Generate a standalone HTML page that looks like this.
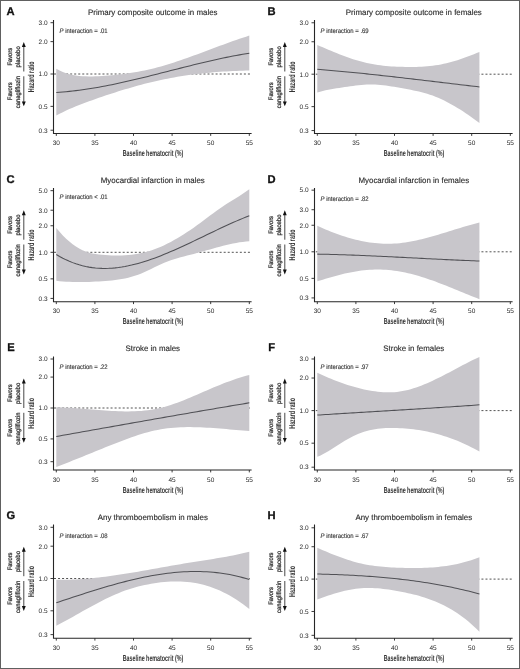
<!DOCTYPE html><html><head><meta charset="utf-8"><style>html,body{margin:0;padding:0;background:#fff;}body{width:520px;height:669px;overflow:hidden;}svg{display:block;will-change:transform;}text{font-family:"Liberation Sans",sans-serif;text-rendering:geometricPrecision;}.t{stroke:#444;stroke-width:0.15px;}.r{stroke:#333;stroke-width:0.28px;}</style></head><body>
<svg width="520" height="669" viewBox="0 0 520 669">
<rect x="0" y="0" width="520" height="669" fill="#fff"/>
<g><line x1="53.7" y1="74" x2="251.6" y2="74" stroke="#4a4a4a" stroke-width="0.95" stroke-dasharray="2.0,2.04" stroke-dashoffset="-0.3"/><polygon points="56.3,68.69 59.57,70.46 62.84,71.94 66.11,73.16 69.38,74.15 72.66,74.92 75.93,75.51 79.2,75.93 82.47,76.21 85.74,76.37 89.01,76.42 92.28,76.39 95.55,76.29 98.83,76.14 102.1,75.95 105.37,75.74 108.64,75.5 111.91,75.22 115.18,74.91 118.45,74.57 121.72,74.19 124.99,73.78 128.27,73.33 131.54,72.83 134.81,72.3 138.08,71.72 141.35,71.1 144.62,70.43 147.89,69.72 151.16,68.96 154.44,68.14 157.71,67.29 160.98,66.38 164.25,65.44 167.52,64.46 170.79,63.45 174.06,62.4 177.33,61.32 180.61,60.22 183.88,59.09 187.15,57.94 190.42,56.77 193.69,55.59 196.96,54.39 200.23,53.18 203.5,51.96 206.77,50.74 210.05,49.51 213.32,48.29 216.59,47.07 219.86,45.85 223.13,44.64 226.4,43.44 229.67,42.26 232.94,41.09 236.22,39.94 239.49,38.81 242.76,37.71 246.03,36.63 249.3,35.59 249.3,70.44 246.03,70.53 242.76,70.64 239.49,70.76 236.22,70.9 232.94,71.05 229.67,71.22 226.4,71.41 223.13,71.62 219.86,71.84 216.59,72.09 213.32,72.35 210.05,72.64 206.77,72.95 203.5,73.28 200.23,73.63 196.96,74.01 193.69,74.41 190.42,74.84 187.15,75.3 183.88,75.78 180.61,76.29 177.33,76.83 174.06,77.4 170.79,78 167.52,78.63 164.25,79.29 160.98,79.98 157.71,80.7 154.44,81.45 151.16,82.23 147.89,83.03 144.62,83.86 141.35,84.72 138.08,85.6 134.81,86.5 131.54,87.43 128.27,88.38 124.99,89.35 121.72,90.35 118.45,91.36 115.18,92.4 111.91,93.45 108.64,94.52 105.37,95.61 102.1,96.72 98.83,97.85 95.55,98.99 92.28,100.14 89.01,101.32 85.74,102.51 82.47,103.74 79.2,105.01 75.93,106.32 72.66,107.68 69.38,109.1 66.11,110.59 62.84,112.16 59.57,113.8 56.3,115.54" fill="#c8c6cb"/><polyline points="56.3,92.43 59.57,92.22 62.84,91.97 66.11,91.69 69.38,91.37 72.66,91.02 75.93,90.64 79.2,90.23 82.47,89.79 85.74,89.32 89.01,88.82 92.28,88.29 95.55,87.75 98.83,87.17 102.1,86.58 105.37,85.96 108.64,85.32 111.91,84.66 115.18,83.98 118.45,83.28 121.72,82.57 124.99,81.84 128.27,81.1 131.54,80.34 134.81,79.58 138.08,78.8 141.35,78.01 144.62,77.21 147.89,76.4 151.16,75.59 154.44,74.77 157.71,73.94 160.98,73.11 164.25,72.28 167.52,71.45 170.79,70.61 174.06,69.78 177.33,68.95 180.61,68.12 183.88,67.29 187.15,66.47 190.42,65.66 193.69,64.85 196.96,64.05 200.23,63.26 203.5,62.47 206.77,61.71 210.05,60.95 213.32,60.2 216.59,59.47 219.86,58.76 223.13,58.06 226.4,57.38 229.67,56.72 232.94,56.08 236.22,55.46 239.49,54.86 242.76,54.28 246.03,53.73 249.3,53.2" fill="none" stroke="#505055" stroke-width="1.05"/><path d="M53.5,19.9V133.5H251.6" fill="none" stroke="#262626" stroke-width="1.1"/><line x1="50.5" y1="130.23" x2="53.5" y2="130.23" stroke="#262626" stroke-width="0.9"/><text x="47.6" y="132.53" font-size="6.5" text-anchor="end" fill="#2a2a2a">0.3</text><line x1="50.5" y1="106.37" x2="53.5" y2="106.37" stroke="#262626" stroke-width="0.9"/><text x="47.6" y="108.67" font-size="6.5" text-anchor="end" fill="#2a2a2a">0.5</text><line x1="50.5" y1="74" x2="53.5" y2="74" stroke="#262626" stroke-width="0.9"/><text x="47.6" y="76.3" font-size="6.5" text-anchor="end" fill="#2a2a2a">1.0</text><line x1="50.5" y1="41.63" x2="53.5" y2="41.63" stroke="#262626" stroke-width="0.9"/><text x="47.6" y="43.93" font-size="6.5" text-anchor="end" fill="#2a2a2a">2.0</text><line x1="50.5" y1="22.69" x2="53.5" y2="22.69" stroke="#262626" stroke-width="0.9"/><text x="47.6" y="24.99" font-size="6.5" text-anchor="end" fill="#2a2a2a">3.0</text><line x1="56.3" y1="133.5" x2="56.3" y2="135.9" stroke="#262626" stroke-width="0.9"/><text x="56.3" y="145.2" font-size="6.5" text-anchor="middle" fill="#2a2a2a">30</text><line x1="94.9" y1="133.5" x2="94.9" y2="135.9" stroke="#262626" stroke-width="0.9"/><text x="94.9" y="145.2" font-size="6.5" text-anchor="middle" fill="#2a2a2a">35</text><line x1="133.5" y1="133.5" x2="133.5" y2="135.9" stroke="#262626" stroke-width="0.9"/><text x="133.5" y="145.2" font-size="6.5" text-anchor="middle" fill="#2a2a2a">40</text><line x1="172.1" y1="133.5" x2="172.1" y2="135.9" stroke="#262626" stroke-width="0.9"/><text x="172.1" y="145.2" font-size="6.5" text-anchor="middle" fill="#2a2a2a">45</text><line x1="210.7" y1="133.5" x2="210.7" y2="135.9" stroke="#262626" stroke-width="0.9"/><text x="210.7" y="145.2" font-size="6.5" text-anchor="middle" fill="#2a2a2a">50</text><line x1="249.3" y1="133.5" x2="249.3" y2="135.9" stroke="#262626" stroke-width="0.9"/><text x="249.3" y="145.2" font-size="6.5" text-anchor="middle" fill="#2a2a2a">55</text><text x="122.65" y="156" font-size="8.6" font-weight="bold" textLength="60.6" lengthAdjust="spacingAndGlyphs" fill="#333">Baseline hematocrit (%)</text><text x="88.08" y="14.8" class="t" font-size="8" textLength="129.44" lengthAdjust="spacingAndGlyphs" fill="#1e1e1e">Primary composite outcome in males</text><text x="59.5" y="33.4" class="t" font-size="6.6" textLength="48.2" lengthAdjust="spacingAndGlyphs" fill="#333"><tspan font-style="italic">P</tspan> interaction = .01</text><text x="6.5" y="14.55" font-size="11.2" font-weight="bold" fill="#111" stroke="#111" stroke-width="0.3">A</text><line x1="23.8" y1="46" x2="23.8" y2="71.5" stroke="#333" stroke-width="0.9"/><polygon points="23.8,42.1 21.85,47 25.75,47" fill="#111"/><line x1="23.8" y1="76.3" x2="23.8" y2="102" stroke="#333" stroke-width="0.9"/><polygon points="23.8,106.2 21.85,101.4 25.75,101.4" fill="#111"/><text transform="translate(12,56.7) rotate(-90)" x="-8.85" y="0" class="r" font-size="6.4" textLength="17.7" lengthAdjust="spacingAndGlyphs" fill="#333">Favors</text><text transform="translate(19.6,56.8) rotate(-90)" x="-10.6" y="0" class="r" font-size="6.4" textLength="21.2" lengthAdjust="spacingAndGlyphs" fill="#333">placebo</text><text transform="translate(12,91.3) rotate(-90)" x="-8.85" y="0" class="r" font-size="6.4" textLength="17.7" lengthAdjust="spacingAndGlyphs" fill="#333">Favors</text><text transform="translate(19.6,92.2) rotate(-90)" x="-16.1" y="0" class="r" font-size="6.4" textLength="32.2" lengthAdjust="spacingAndGlyphs" fill="#333">canagliflozin</text><text transform="translate(33.8,76.8) rotate(-90)" x="-15.4" y="0" font-size="8.5" font-weight="bold" textLength="30.8" lengthAdjust="spacingAndGlyphs" fill="#333">Hazard ratio</text></g>
<g><line x1="314.7" y1="74.2" x2="512.6" y2="74.2" stroke="#4a4a4a" stroke-width="0.95" stroke-dasharray="2.0,2.04" stroke-dashoffset="-1.1"/><polygon points="317.3,45.01 320.05,46.18 322.8,47.36 325.54,48.53 328.29,49.69 331.04,50.84 333.79,51.97 336.53,53.09 339.28,54.18 342.03,55.24 344.78,56.27 347.53,57.27 350.27,58.23 353.02,59.15 355.77,60.02 358.52,60.84 361.26,61.6 364.01,62.31 366.76,62.96 369.51,63.54 372.26,64.07 375,64.54 377.75,64.96 380.5,65.33 383.25,65.65 385.99,65.93 388.74,66.17 391.49,66.38 394.24,66.54 396.99,66.68 399.73,66.79 402.48,66.87 405.23,66.93 407.98,66.96 410.73,66.97 413.47,66.95 416.22,66.9 418.97,66.81 421.72,66.68 424.46,66.51 427.21,66.29 429.96,66.02 432.71,65.71 435.46,65.33 438.2,64.9 440.95,64.41 443.7,63.86 446.45,63.23 449.19,62.55 451.94,61.8 454.69,61 457.44,60.15 460.19,59.25 462.93,58.31 465.68,57.33 468.43,56.31 471.18,55.26 473.92,54.18 476.67,53.07 479.42,51.95 479.42,123.06 476.67,120.99 473.92,118.96 471.18,116.98 468.43,115.05 465.68,113.18 462.93,111.36 460.19,109.6 457.44,107.9 454.69,106.26 451.94,104.68 449.19,103.17 446.45,101.73 443.7,100.35 440.95,99.05 438.2,97.82 435.46,96.67 432.71,95.62 429.96,94.67 427.21,93.81 424.46,93.02 421.72,92.29 418.97,91.62 416.22,90.98 413.47,90.39 410.73,89.83 407.98,89.3 405.23,88.78 402.48,88.27 399.73,87.77 396.99,87.29 394.24,86.83 391.49,86.39 388.74,85.98 385.99,85.61 383.25,85.28 380.5,85.01 377.75,84.78 375,84.62 372.26,84.52 369.51,84.49 366.76,84.54 364.01,84.68 361.26,84.89 358.52,85.18 355.77,85.51 353.02,85.89 350.27,86.29 347.53,86.71 344.78,87.12 342.03,87.51 339.28,87.9 336.53,88.29 333.79,88.71 331.04,89.16 328.29,89.67 325.54,90.25 322.8,90.92 320.05,91.7 317.3,92.59" fill="#c8c6cb"/><polyline points="317.3,69.26 320.05,69.48 322.8,69.71 325.54,69.94 328.29,70.18 331.04,70.42 333.79,70.66 336.53,70.91 339.28,71.16 342.03,71.42 344.78,71.68 347.53,71.94 350.27,72.21 353.02,72.48 355.77,72.76 358.52,73.03 361.26,73.32 364.01,73.6 366.76,73.89 369.51,74.17 372.26,74.47 375,74.76 377.75,75.06 380.5,75.36 383.25,75.66 385.99,75.97 388.74,76.27 391.49,76.58 394.24,76.89 396.99,77.2 399.73,77.52 402.48,77.83 405.23,78.15 407.98,78.47 410.73,78.79 413.47,79.11 416.22,79.43 418.97,79.75 421.72,80.08 424.46,80.4 427.21,80.73 429.96,81.06 432.71,81.38 435.46,81.71 438.2,82.04 440.95,82.37 443.7,82.69 446.45,83.02 449.19,83.35 451.94,83.68 454.69,84 457.44,84.33 460.19,84.66 462.93,84.98 465.68,85.31 468.43,85.63 471.18,85.96 473.92,86.28 476.67,86.6 479.42,86.92" fill="none" stroke="#505055" stroke-width="1.05"/><path d="M314.5,19.9V133.5H512.6" fill="none" stroke="#262626" stroke-width="1.1"/><line x1="311.5" y1="130.55" x2="314.5" y2="130.55" stroke="#262626" stroke-width="0.9"/><text x="308.6" y="132.85" font-size="6.5" text-anchor="end" fill="#2a2a2a">0.3</text><line x1="311.5" y1="106.64" x2="314.5" y2="106.64" stroke="#262626" stroke-width="0.9"/><text x="308.6" y="108.94" font-size="6.5" text-anchor="end" fill="#2a2a2a">0.5</text><line x1="311.5" y1="74.2" x2="314.5" y2="74.2" stroke="#262626" stroke-width="0.9"/><text x="308.6" y="76.5" font-size="6.5" text-anchor="end" fill="#2a2a2a">1.0</text><line x1="311.5" y1="41.76" x2="314.5" y2="41.76" stroke="#262626" stroke-width="0.9"/><text x="308.6" y="44.06" font-size="6.5" text-anchor="end" fill="#2a2a2a">2.0</text><line x1="311.5" y1="22.78" x2="314.5" y2="22.78" stroke="#262626" stroke-width="0.9"/><text x="308.6" y="25.08" font-size="6.5" text-anchor="end" fill="#2a2a2a">3.0</text><line x1="317.3" y1="133.5" x2="317.3" y2="135.9" stroke="#262626" stroke-width="0.9"/><text x="317.3" y="145.2" font-size="6.5" text-anchor="middle" fill="#2a2a2a">30</text><line x1="355.9" y1="133.5" x2="355.9" y2="135.9" stroke="#262626" stroke-width="0.9"/><text x="355.9" y="145.2" font-size="6.5" text-anchor="middle" fill="#2a2a2a">35</text><line x1="394.5" y1="133.5" x2="394.5" y2="135.9" stroke="#262626" stroke-width="0.9"/><text x="394.5" y="145.2" font-size="6.5" text-anchor="middle" fill="#2a2a2a">40</text><line x1="433.1" y1="133.5" x2="433.1" y2="135.9" stroke="#262626" stroke-width="0.9"/><text x="433.1" y="145.2" font-size="6.5" text-anchor="middle" fill="#2a2a2a">45</text><line x1="471.7" y1="133.5" x2="471.7" y2="135.9" stroke="#262626" stroke-width="0.9"/><text x="471.7" y="145.2" font-size="6.5" text-anchor="middle" fill="#2a2a2a">50</text><line x1="510.3" y1="133.5" x2="510.3" y2="135.9" stroke="#262626" stroke-width="0.9"/><text x="510.3" y="145.2" font-size="6.5" text-anchor="middle" fill="#2a2a2a">55</text><text x="383.65" y="156" font-size="8.6" font-weight="bold" textLength="60.6" lengthAdjust="spacingAndGlyphs" fill="#333">Baseline hematocrit (%)</text><text x="345.79" y="14.8" class="t" font-size="8" textLength="136.03" lengthAdjust="spacingAndGlyphs" fill="#1e1e1e">Primary composite outcome in females</text><text x="320.5" y="33.4" class="t" font-size="6.6" textLength="48.2" lengthAdjust="spacingAndGlyphs" fill="#333"><tspan font-style="italic">P</tspan> interaction = .69</text><text x="267.5" y="14.55" font-size="11.2" font-weight="bold" fill="#111" stroke="#111" stroke-width="0.3">B</text><line x1="284.8" y1="46" x2="284.8" y2="71.5" stroke="#333" stroke-width="0.9"/><polygon points="284.8,42.1 282.85,47 286.75,47" fill="#111"/><line x1="284.8" y1="76.3" x2="284.8" y2="102" stroke="#333" stroke-width="0.9"/><polygon points="284.8,106.2 282.85,101.4 286.75,101.4" fill="#111"/><text transform="translate(273,56.7) rotate(-90)" x="-8.85" y="0" class="r" font-size="6.4" textLength="17.7" lengthAdjust="spacingAndGlyphs" fill="#333">Favors</text><text transform="translate(280.6,56.8) rotate(-90)" x="-10.6" y="0" class="r" font-size="6.4" textLength="21.2" lengthAdjust="spacingAndGlyphs" fill="#333">placebo</text><text transform="translate(273,91.3) rotate(-90)" x="-8.85" y="0" class="r" font-size="6.4" textLength="17.7" lengthAdjust="spacingAndGlyphs" fill="#333">Favors</text><text transform="translate(280.6,92.2) rotate(-90)" x="-16.1" y="0" class="r" font-size="6.4" textLength="32.2" lengthAdjust="spacingAndGlyphs" fill="#333">canagliflozin</text><text transform="translate(294.8,76.8) rotate(-90)" x="-15.4" y="0" font-size="8.5" font-weight="bold" textLength="30.8" lengthAdjust="spacingAndGlyphs" fill="#333">Hazard ratio</text></g>
<g><line x1="53.7" y1="252.3" x2="251.6" y2="252.3" stroke="#4a4a4a" stroke-width="0.95" stroke-dasharray="2.0,2.04" stroke-dashoffset="-0.3"/><polygon points="56.3,227.94 59.57,231.82 62.84,235.38 66.11,238.64 69.38,241.58 72.66,244.21 75.93,246.52 79.2,248.52 82.47,250.2 85.74,251.56 89.01,252.63 92.28,253.44 95.55,254.04 98.83,254.48 102.1,254.8 105.37,255.05 108.64,255.25 111.91,255.4 115.18,255.48 118.45,255.49 121.72,255.43 124.99,255.29 128.27,255.06 131.54,254.74 134.81,254.31 138.08,253.77 141.35,253.12 144.62,252.35 147.89,251.45 151.16,250.43 154.44,249.28 157.71,248.02 160.98,246.65 164.25,245.16 167.52,243.58 170.79,241.89 174.06,240.11 177.33,238.24 180.61,236.28 183.88,234.23 187.15,232.11 190.42,229.91 193.69,227.64 196.96,225.3 200.23,222.91 203.5,220.49 206.77,218.05 210.05,215.62 213.32,213.2 216.59,210.83 219.86,208.51 223.13,206.27 226.4,204.12 229.67,202.04 232.94,199.99 236.22,197.94 239.49,195.88 242.76,193.76 246.03,191.55 249.3,189.24 249.3,241.33 246.03,241.56 242.76,241.91 239.49,242.37 236.22,242.92 232.94,243.55 229.67,244.25 226.4,245.02 223.13,245.84 219.86,246.7 216.59,247.58 213.32,248.49 210.05,249.4 206.77,250.32 203.5,251.22 200.23,252.12 196.96,253.01 193.69,253.88 190.42,254.75 187.15,255.6 183.88,256.44 180.61,257.3 177.33,258.2 174.06,259.16 170.79,260.22 167.52,261.39 164.25,262.7 160.98,264.15 157.71,265.7 154.44,267.31 151.16,268.92 147.89,270.5 144.62,272 141.35,273.38 138.08,274.64 134.81,275.77 131.54,276.78 128.27,277.67 124.99,278.44 121.72,279.08 118.45,279.62 115.18,280.07 111.91,280.44 108.64,280.74 105.37,281 102.1,281.23 98.83,281.44 95.55,281.62 92.28,281.77 89.01,281.89 85.74,281.98 82.47,282.03 79.2,282.04 75.93,282.01 72.66,281.93 69.38,281.81 66.11,281.64 62.84,281.42 59.57,281.15 56.3,280.82" fill="#c8c6cb"/><polyline points="56.3,254.5 59.57,256.45 62.84,258.23 66.11,259.85 69.38,261.31 72.66,262.63 75.93,263.8 79.2,264.83 82.47,265.73 85.74,266.48 89.01,267.11 92.28,267.61 95.55,267.98 98.83,268.24 102.1,268.38 105.37,268.41 108.64,268.33 111.91,268.15 115.18,267.87 118.45,267.5 121.72,267.03 124.99,266.47 128.27,265.83 131.54,265.11 134.81,264.31 138.08,263.44 141.35,262.51 144.62,261.5 147.89,260.44 151.16,259.32 154.44,258.14 157.71,256.92 160.98,255.65 164.25,254.34 167.52,252.98 170.79,251.59 174.06,250.17 177.33,248.72 180.61,247.24 183.88,245.74 187.15,244.21 190.42,242.67 193.69,241.12 196.96,239.56 200.23,237.99 203.5,236.41 206.77,234.83 210.05,233.26 213.32,231.69 216.59,230.13 219.86,228.58 223.13,227.05 226.4,225.54 229.67,224.04 232.94,222.58 236.22,221.14 239.49,219.73 242.76,218.36 246.03,217.03 249.3,215.73" fill="none" stroke="#505055" stroke-width="1.05"/><path d="M53.5,188.1V301.7H251.6" fill="none" stroke="#262626" stroke-width="1.1"/><line x1="50.5" y1="298.41" x2="53.5" y2="298.41" stroke="#262626" stroke-width="0.9"/><text x="47.6" y="300.71" font-size="6.5" text-anchor="end" fill="#2a2a2a">0.3</text><line x1="50.5" y1="278.85" x2="53.5" y2="278.85" stroke="#262626" stroke-width="0.9"/><text x="47.6" y="281.15" font-size="6.5" text-anchor="end" fill="#2a2a2a">0.5</text><line x1="50.5" y1="252.3" x2="53.5" y2="252.3" stroke="#262626" stroke-width="0.9"/><text x="47.6" y="254.6" font-size="6.5" text-anchor="end" fill="#2a2a2a">1.0</text><line x1="50.5" y1="225.75" x2="53.5" y2="225.75" stroke="#262626" stroke-width="0.9"/><text x="47.6" y="228.05" font-size="6.5" text-anchor="end" fill="#2a2a2a">2.0</text><line x1="50.5" y1="210.22" x2="53.5" y2="210.22" stroke="#262626" stroke-width="0.9"/><text x="47.6" y="212.52" font-size="6.5" text-anchor="end" fill="#2a2a2a">3.0</text><line x1="50.5" y1="190.66" x2="53.5" y2="190.66" stroke="#262626" stroke-width="0.9"/><text x="47.6" y="192.96" font-size="6.5" text-anchor="end" fill="#2a2a2a">5.0</text><line x1="56.3" y1="301.7" x2="56.3" y2="304.1" stroke="#262626" stroke-width="0.9"/><text x="56.3" y="313.4" font-size="6.5" text-anchor="middle" fill="#2a2a2a">30</text><line x1="94.9" y1="301.7" x2="94.9" y2="304.1" stroke="#262626" stroke-width="0.9"/><text x="94.9" y="313.4" font-size="6.5" text-anchor="middle" fill="#2a2a2a">35</text><line x1="133.5" y1="301.7" x2="133.5" y2="304.1" stroke="#262626" stroke-width="0.9"/><text x="133.5" y="313.4" font-size="6.5" text-anchor="middle" fill="#2a2a2a">40</text><line x1="172.1" y1="301.7" x2="172.1" y2="304.1" stroke="#262626" stroke-width="0.9"/><text x="172.1" y="313.4" font-size="6.5" text-anchor="middle" fill="#2a2a2a">45</text><line x1="210.7" y1="301.7" x2="210.7" y2="304.1" stroke="#262626" stroke-width="0.9"/><text x="210.7" y="313.4" font-size="6.5" text-anchor="middle" fill="#2a2a2a">50</text><line x1="249.3" y1="301.7" x2="249.3" y2="304.1" stroke="#262626" stroke-width="0.9"/><text x="249.3" y="313.4" font-size="6.5" text-anchor="middle" fill="#2a2a2a">55</text><text x="122.65" y="324.2" font-size="8.6" font-weight="bold" textLength="60.6" lengthAdjust="spacingAndGlyphs" fill="#333">Baseline hematocrit (%)</text><text x="100.8" y="183" class="t" font-size="8" textLength="104" lengthAdjust="spacingAndGlyphs" fill="#1e1e1e">Myocardial infarction in males</text><text x="59.5" y="198.9" class="t" font-size="6.6" textLength="48.2" lengthAdjust="spacingAndGlyphs" fill="#333"><tspan font-style="italic">P</tspan> interaction < .01</text><text x="6.5" y="182.75" font-size="11.2" font-weight="bold" fill="#111" stroke="#111" stroke-width="0.3">C</text><line x1="23.8" y1="214.2" x2="23.8" y2="239.7" stroke="#333" stroke-width="0.9"/><polygon points="23.8,210.3 21.85,215.2 25.75,215.2" fill="#111"/><line x1="23.8" y1="244.5" x2="23.8" y2="270.2" stroke="#333" stroke-width="0.9"/><polygon points="23.8,274.4 21.85,269.6 25.75,269.6" fill="#111"/><text transform="translate(12,224.9) rotate(-90)" x="-8.85" y="0" class="r" font-size="6.4" textLength="17.7" lengthAdjust="spacingAndGlyphs" fill="#333">Favors</text><text transform="translate(19.6,225) rotate(-90)" x="-10.6" y="0" class="r" font-size="6.4" textLength="21.2" lengthAdjust="spacingAndGlyphs" fill="#333">placebo</text><text transform="translate(12,259.5) rotate(-90)" x="-8.85" y="0" class="r" font-size="6.4" textLength="17.7" lengthAdjust="spacingAndGlyphs" fill="#333">Favors</text><text transform="translate(19.6,260.4) rotate(-90)" x="-16.1" y="0" class="r" font-size="6.4" textLength="32.2" lengthAdjust="spacingAndGlyphs" fill="#333">canagliflozin</text><text transform="translate(33.8,245) rotate(-90)" x="-15.4" y="0" font-size="8.5" font-weight="bold" textLength="30.8" lengthAdjust="spacingAndGlyphs" fill="#333">Hazard ratio</text></g>
<g><line x1="314.7" y1="251.8" x2="512.6" y2="251.8" stroke="#4a4a4a" stroke-width="0.95" stroke-dasharray="2.0,2.04" stroke-dashoffset="-1.1"/><polygon points="317.3,225.7 320.05,226.97 322.8,228.21 325.54,229.41 328.29,230.56 331.04,231.68 333.79,232.75 336.53,233.79 339.28,234.77 342.03,235.71 344.78,236.61 347.53,237.46 350.27,238.26 353.02,239.01 355.77,239.71 358.52,240.35 361.26,240.95 364.01,241.49 366.76,241.98 369.51,242.41 372.26,242.78 375,243.1 377.75,243.36 380.5,243.55 383.25,243.69 385.99,243.76 388.74,243.77 391.49,243.72 394.24,243.6 396.99,243.41 399.73,243.16 402.48,242.85 405.23,242.48 407.98,242.05 410.73,241.57 413.47,241.05 416.22,240.48 418.97,239.86 421.72,239.21 424.46,238.53 427.21,237.81 429.96,237.06 432.71,236.29 435.46,235.5 438.2,234.69 440.95,233.86 443.7,233.02 446.45,232.18 449.19,231.32 451.94,230.47 454.69,229.62 457.44,228.77 460.19,227.94 462.93,227.11 465.68,226.3 468.43,225.51 471.18,224.74 473.92,223.99 476.67,223.28 479.42,222.59 479.42,299.19 476.67,298.1 473.92,297 471.18,295.89 468.43,294.78 465.68,293.65 462.93,292.52 460.19,291.4 457.44,290.27 454.69,289.15 451.94,288.03 449.19,286.92 446.45,285.83 443.7,284.75 440.95,283.69 438.2,282.64 435.46,281.62 432.71,280.62 429.96,279.65 427.21,278.71 424.46,277.8 421.72,276.93 418.97,276.09 416.22,275.29 413.47,274.54 410.73,273.83 407.98,273.16 405.23,272.55 402.48,271.99 399.73,271.48 396.99,271.03 394.24,270.64 391.49,270.32 388.74,270.05 385.99,269.84 383.25,269.7 380.5,269.61 377.75,269.58 375,269.61 372.26,269.7 369.51,269.84 366.76,270.04 364.01,270.3 361.26,270.61 358.52,270.98 355.77,271.41 353.02,271.89 350.27,272.42 347.53,272.99 344.78,273.61 342.03,274.27 339.28,274.96 336.53,275.69 333.79,276.44 331.04,277.21 328.29,278.01 325.54,278.82 322.8,279.64 320.05,280.47 317.3,281.3" fill="#c8c6cb"/><polyline points="317.3,254.11 320.05,254.16 322.8,254.22 325.54,254.28 328.29,254.34 331.04,254.41 333.79,254.49 336.53,254.56 339.28,254.65 342.03,254.73 344.78,254.82 347.53,254.92 350.27,255.02 353.02,255.12 355.77,255.22 358.52,255.33 361.26,255.44 364.01,255.56 366.76,255.68 369.51,255.8 372.26,255.92 375,256.04 377.75,256.17 380.5,256.3 383.25,256.43 385.99,256.56 388.74,256.7 391.49,256.83 394.24,256.97 396.99,257.11 399.73,257.25 402.48,257.39 405.23,257.53 407.98,257.67 410.73,257.81 413.47,257.95 416.22,258.09 418.97,258.23 421.72,258.38 424.46,258.52 427.21,258.66 429.96,258.8 432.71,258.93 435.46,259.07 438.2,259.21 440.95,259.34 443.7,259.48 446.45,259.61 449.19,259.74 451.94,259.87 454.69,259.99 457.44,260.12 460.19,260.24 462.93,260.36 465.68,260.47 468.43,260.59 471.18,260.7 473.92,260.8 476.67,260.91 479.42,261.01" fill="none" stroke="#505055" stroke-width="1.05"/><path d="M314.5,188.1V301.7H512.6" fill="none" stroke="#262626" stroke-width="1.1"/><line x1="311.5" y1="297.91" x2="314.5" y2="297.91" stroke="#262626" stroke-width="0.9"/><text x="308.6" y="300.21" font-size="6.5" text-anchor="end" fill="#2a2a2a">0.3</text><line x1="311.5" y1="278.35" x2="314.5" y2="278.35" stroke="#262626" stroke-width="0.9"/><text x="308.6" y="280.65" font-size="6.5" text-anchor="end" fill="#2a2a2a">0.5</text><line x1="311.5" y1="251.8" x2="314.5" y2="251.8" stroke="#262626" stroke-width="0.9"/><text x="308.6" y="254.1" font-size="6.5" text-anchor="end" fill="#2a2a2a">1.0</text><line x1="311.5" y1="225.25" x2="314.5" y2="225.25" stroke="#262626" stroke-width="0.9"/><text x="308.6" y="227.55" font-size="6.5" text-anchor="end" fill="#2a2a2a">2.0</text><line x1="311.5" y1="209.72" x2="314.5" y2="209.72" stroke="#262626" stroke-width="0.9"/><text x="308.6" y="212.02" font-size="6.5" text-anchor="end" fill="#2a2a2a">3.0</text><line x1="311.5" y1="190.16" x2="314.5" y2="190.16" stroke="#262626" stroke-width="0.9"/><text x="308.6" y="192.46" font-size="6.5" text-anchor="end" fill="#2a2a2a">5.0</text><line x1="317.3" y1="301.7" x2="317.3" y2="304.1" stroke="#262626" stroke-width="0.9"/><text x="317.3" y="313.4" font-size="6.5" text-anchor="middle" fill="#2a2a2a">30</text><line x1="355.9" y1="301.7" x2="355.9" y2="304.1" stroke="#262626" stroke-width="0.9"/><text x="355.9" y="313.4" font-size="6.5" text-anchor="middle" fill="#2a2a2a">35</text><line x1="394.5" y1="301.7" x2="394.5" y2="304.1" stroke="#262626" stroke-width="0.9"/><text x="394.5" y="313.4" font-size="6.5" text-anchor="middle" fill="#2a2a2a">40</text><line x1="433.1" y1="301.7" x2="433.1" y2="304.1" stroke="#262626" stroke-width="0.9"/><text x="433.1" y="313.4" font-size="6.5" text-anchor="middle" fill="#2a2a2a">45</text><line x1="471.7" y1="301.7" x2="471.7" y2="304.1" stroke="#262626" stroke-width="0.9"/><text x="471.7" y="313.4" font-size="6.5" text-anchor="middle" fill="#2a2a2a">50</text><line x1="510.3" y1="301.7" x2="510.3" y2="304.1" stroke="#262626" stroke-width="0.9"/><text x="510.3" y="313.4" font-size="6.5" text-anchor="middle" fill="#2a2a2a">55</text><text x="383.65" y="324.2" font-size="8.6" font-weight="bold" textLength="60.6" lengthAdjust="spacingAndGlyphs" fill="#333">Baseline hematocrit (%)</text><text x="358.51" y="183" class="t" font-size="8" textLength="110.58" lengthAdjust="spacingAndGlyphs" fill="#1e1e1e">Myocardial infarction in females</text><text x="320.5" y="201.4" class="t" font-size="6.6" textLength="48.2" lengthAdjust="spacingAndGlyphs" fill="#333"><tspan font-style="italic">P</tspan> interaction = .82</text><text x="267.5" y="182.75" font-size="11.2" font-weight="bold" fill="#111" stroke="#111" stroke-width="0.3">D</text><line x1="284.8" y1="214.2" x2="284.8" y2="239.7" stroke="#333" stroke-width="0.9"/><polygon points="284.8,210.3 282.85,215.2 286.75,215.2" fill="#111"/><line x1="284.8" y1="244.5" x2="284.8" y2="270.2" stroke="#333" stroke-width="0.9"/><polygon points="284.8,274.4 282.85,269.6 286.75,269.6" fill="#111"/><text transform="translate(273,224.9) rotate(-90)" x="-8.85" y="0" class="r" font-size="6.4" textLength="17.7" lengthAdjust="spacingAndGlyphs" fill="#333">Favors</text><text transform="translate(280.6,225) rotate(-90)" x="-10.6" y="0" class="r" font-size="6.4" textLength="21.2" lengthAdjust="spacingAndGlyphs" fill="#333">placebo</text><text transform="translate(273,259.5) rotate(-90)" x="-8.85" y="0" class="r" font-size="6.4" textLength="17.7" lengthAdjust="spacingAndGlyphs" fill="#333">Favors</text><text transform="translate(280.6,260.4) rotate(-90)" x="-16.1" y="0" class="r" font-size="6.4" textLength="32.2" lengthAdjust="spacingAndGlyphs" fill="#333">canagliflozin</text><text transform="translate(294.8,245) rotate(-90)" x="-15.4" y="0" font-size="8.5" font-weight="bold" textLength="30.8" lengthAdjust="spacingAndGlyphs" fill="#333">Hazard ratio</text></g>
<g><line x1="53.7" y1="408" x2="251.6" y2="408" stroke="#4a4a4a" stroke-width="0.95" stroke-dasharray="2.0,2.04" stroke-dashoffset="-0.3"/><polygon points="56.3,407.16 59.57,407.31 62.84,407.47 66.11,407.66 69.38,407.86 72.66,408.08 75.93,408.31 79.2,408.54 82.47,408.78 85.74,409.03 89.01,409.27 92.28,409.52 95.55,409.77 98.83,410.01 102.1,410.25 105.37,410.47 108.64,410.69 111.91,410.88 115.18,411.06 118.45,411.2 121.72,411.31 124.99,411.38 128.27,411.4 131.54,411.36 134.81,411.27 138.08,411.12 141.35,410.89 144.62,410.59 147.89,410.21 151.16,409.74 154.44,409.17 157.71,408.51 160.98,407.76 164.25,406.91 167.52,405.97 170.79,404.95 174.06,403.85 177.33,402.68 180.61,401.45 183.88,400.16 187.15,398.83 190.42,397.46 193.69,396.07 196.96,394.66 200.23,393.23 203.5,391.81 206.77,390.4 210.05,389 213.32,387.62 216.59,386.26 219.86,384.93 223.13,383.62 226.4,382.36 229.67,381.13 232.94,379.95 236.22,378.82 239.49,377.75 242.76,376.73 246.03,375.78 249.3,374.89 249.3,430.99 246.03,430.76 242.76,430.51 239.49,430.24 236.22,429.97 232.94,429.69 229.67,429.4 226.4,429.12 223.13,428.84 219.86,428.57 216.59,428.31 213.32,428.06 210.05,427.84 206.77,427.64 203.5,427.46 200.23,427.32 196.96,427.21 193.69,427.14 190.42,427.11 187.15,427.12 183.88,427.18 180.61,427.3 177.33,427.47 174.06,427.7 170.79,428 167.52,428.36 164.25,428.8 160.98,429.31 157.71,429.89 154.44,430.56 151.16,431.32 147.89,432.15 144.62,433.06 141.35,434.04 138.08,435.07 134.81,436.15 131.54,437.28 128.27,438.45 124.99,439.65 121.72,440.88 118.45,442.13 115.18,443.41 111.91,444.7 108.64,446 105.37,447.31 102.1,448.64 98.83,449.96 95.55,451.3 92.28,452.63 89.01,453.97 85.74,455.3 82.47,456.63 79.2,457.96 75.93,459.28 72.66,460.59 69.38,461.9 66.11,463.18 62.84,464.46 59.57,465.72 56.3,466.96" fill="#c8c6cb"/><polyline points="56.3,436.51 59.57,435.93 62.84,435.35 66.11,434.76 69.38,434.18 72.66,433.6 75.93,433.01 79.2,432.43 82.47,431.85 85.74,431.26 89.01,430.68 92.28,430.1 95.55,429.51 98.83,428.93 102.1,428.35 105.37,427.77 108.64,427.19 111.91,426.61 115.18,426.03 118.45,425.45 121.72,424.87 124.99,424.29 128.27,423.71 131.54,423.13 134.81,422.55 138.08,421.98 141.35,421.4 144.62,420.82 147.89,420.25 151.16,419.67 154.44,419.1 157.71,418.53 160.98,417.95 164.25,417.38 167.52,416.81 170.79,416.24 174.06,415.67 177.33,415.1 180.61,414.53 183.88,413.97 187.15,413.4 190.42,412.83 193.69,412.27 196.96,411.71 200.23,411.14 203.5,410.58 206.77,410.02 210.05,409.46 213.32,408.9 216.59,408.35 219.86,407.79 223.13,407.23 226.4,406.68 229.67,406.13 232.94,405.58 236.22,405.02 239.49,404.48 242.76,403.93 246.03,403.38 249.3,402.84" fill="none" stroke="#505055" stroke-width="1.05"/><path d="M53.5,356.4V470H251.6" fill="none" stroke="#262626" stroke-width="1.1"/><line x1="50.5" y1="461.7" x2="53.5" y2="461.7" stroke="#262626" stroke-width="0.9"/><text x="47.6" y="464" font-size="6.5" text-anchor="end" fill="#2a2a2a">0.3</text><line x1="50.5" y1="438.91" x2="53.5" y2="438.91" stroke="#262626" stroke-width="0.9"/><text x="47.6" y="441.21" font-size="6.5" text-anchor="end" fill="#2a2a2a">0.5</text><line x1="50.5" y1="408" x2="53.5" y2="408" stroke="#262626" stroke-width="0.9"/><text x="47.6" y="410.3" font-size="6.5" text-anchor="end" fill="#2a2a2a">1.0</text><line x1="50.5" y1="377.09" x2="53.5" y2="377.09" stroke="#262626" stroke-width="0.9"/><text x="47.6" y="379.39" font-size="6.5" text-anchor="end" fill="#2a2a2a">2.0</text><line x1="50.5" y1="359" x2="53.5" y2="359" stroke="#262626" stroke-width="0.9"/><text x="47.6" y="361.3" font-size="6.5" text-anchor="end" fill="#2a2a2a">3.0</text><line x1="56.3" y1="470" x2="56.3" y2="472.4" stroke="#262626" stroke-width="0.9"/><text x="56.3" y="481.7" font-size="6.5" text-anchor="middle" fill="#2a2a2a">30</text><line x1="94.9" y1="470" x2="94.9" y2="472.4" stroke="#262626" stroke-width="0.9"/><text x="94.9" y="481.7" font-size="6.5" text-anchor="middle" fill="#2a2a2a">35</text><line x1="133.5" y1="470" x2="133.5" y2="472.4" stroke="#262626" stroke-width="0.9"/><text x="133.5" y="481.7" font-size="6.5" text-anchor="middle" fill="#2a2a2a">40</text><line x1="172.1" y1="470" x2="172.1" y2="472.4" stroke="#262626" stroke-width="0.9"/><text x="172.1" y="481.7" font-size="6.5" text-anchor="middle" fill="#2a2a2a">45</text><line x1="210.7" y1="470" x2="210.7" y2="472.4" stroke="#262626" stroke-width="0.9"/><text x="210.7" y="481.7" font-size="6.5" text-anchor="middle" fill="#2a2a2a">50</text><line x1="249.3" y1="470" x2="249.3" y2="472.4" stroke="#262626" stroke-width="0.9"/><text x="249.3" y="481.7" font-size="6.5" text-anchor="middle" fill="#2a2a2a">55</text><text x="122.65" y="492.5" font-size="8.6" font-weight="bold" textLength="60.6" lengthAdjust="spacingAndGlyphs" fill="#333">Baseline hematocrit (%)</text><text x="125.59" y="351.3" class="t" font-size="8" textLength="54.41" lengthAdjust="spacingAndGlyphs" fill="#1e1e1e">Stroke in males</text><text x="59.5" y="368.9" class="t" font-size="6.6" textLength="48.2" lengthAdjust="spacingAndGlyphs" fill="#333"><tspan font-style="italic">P</tspan> interaction = .22</text><text x="7.2" y="351.05" font-size="11.2" font-weight="bold" fill="#111" stroke="#111" stroke-width="0.3">E</text><line x1="23.8" y1="382.5" x2="23.8" y2="408" stroke="#333" stroke-width="0.9"/><polygon points="23.8,378.6 21.85,383.5 25.75,383.5" fill="#111"/><line x1="23.8" y1="412.8" x2="23.8" y2="438.5" stroke="#333" stroke-width="0.9"/><polygon points="23.8,442.7 21.85,437.9 25.75,437.9" fill="#111"/><text transform="translate(12,393.2) rotate(-90)" x="-8.85" y="0" class="r" font-size="6.4" textLength="17.7" lengthAdjust="spacingAndGlyphs" fill="#333">Favors</text><text transform="translate(19.6,393.3) rotate(-90)" x="-10.6" y="0" class="r" font-size="6.4" textLength="21.2" lengthAdjust="spacingAndGlyphs" fill="#333">placebo</text><text transform="translate(12,427.8) rotate(-90)" x="-8.85" y="0" class="r" font-size="6.4" textLength="17.7" lengthAdjust="spacingAndGlyphs" fill="#333">Favors</text><text transform="translate(19.6,428.7) rotate(-90)" x="-16.1" y="0" class="r" font-size="6.4" textLength="32.2" lengthAdjust="spacingAndGlyphs" fill="#333">canagliflozin</text><text transform="translate(33.8,413.3) rotate(-90)" x="-15.4" y="0" font-size="8.5" font-weight="bold" textLength="30.8" lengthAdjust="spacingAndGlyphs" fill="#333">Hazard ratio</text></g>
<g><line x1="314.7" y1="410.6" x2="512.6" y2="410.6" stroke="#4a4a4a" stroke-width="0.95" stroke-dasharray="2.0,2.04" stroke-dashoffset="-1.1"/><polygon points="317.3,372.66 320.05,373.97 322.8,375.25 325.54,376.49 328.29,377.69 331.04,378.85 333.79,379.97 336.53,381.05 339.28,382.08 342.03,383.07 344.78,384.02 347.53,384.93 350.27,385.79 353.02,386.6 355.77,387.37 358.52,388.1 361.26,388.77 364.01,389.4 366.76,389.97 369.51,390.5 372.26,390.96 375,391.37 377.75,391.71 380.5,391.98 383.25,392.18 385.99,392.29 388.74,392.33 391.49,392.27 394.24,392.13 396.99,391.88 399.73,391.54 402.48,391.09 405.23,390.54 407.98,389.89 410.73,389.16 413.47,388.34 416.22,387.44 418.97,386.47 421.72,385.43 424.46,384.32 427.21,383.16 429.96,381.94 432.71,380.68 435.46,379.37 438.2,378.03 440.95,376.65 443.7,375.25 446.45,373.82 449.19,372.38 451.94,370.92 454.69,369.46 457.44,368 460.19,366.55 462.93,365.1 465.68,363.67 468.43,362.26 471.18,360.87 473.92,359.51 476.67,358.19 479.42,356.91 479.42,451.6 476.67,450.06 473.92,448.57 471.18,447.14 468.43,445.77 465.68,444.45 462.93,443.19 460.19,441.99 457.44,440.84 454.69,439.74 451.94,438.7 449.19,437.71 446.45,436.77 443.7,435.88 440.95,435.05 438.2,434.26 435.46,433.52 432.71,432.84 429.96,432.2 427.21,431.6 424.46,431.06 421.72,430.55 418.97,430.1 416.22,429.69 413.47,429.32 410.73,429 407.98,428.72 405.23,428.48 402.48,428.28 399.73,428.13 396.99,428.01 394.24,427.94 391.49,427.92 388.74,427.96 385.99,428.06 383.25,428.23 380.5,428.47 377.75,428.8 375,429.2 372.26,429.7 369.51,430.3 366.76,431 364.01,431.81 361.26,432.73 358.52,433.78 355.77,434.95 353.02,436.26 350.27,437.69 347.53,439.23 344.78,440.86 342.03,442.57 339.28,444.32 336.53,446.1 333.79,447.87 331.04,449.6 328.29,451.28 325.54,452.87 322.8,454.35 320.05,455.69 317.3,456.87" fill="#c8c6cb"/><polyline points="317.3,415.09 320.05,414.92 322.8,414.74 325.54,414.57 328.29,414.4 331.04,414.23 333.79,414.06 336.53,413.89 339.28,413.72 342.03,413.55 344.78,413.38 347.53,413.21 350.27,413.04 353.02,412.88 355.77,412.71 358.52,412.54 361.26,412.38 364.01,412.21 366.76,412.05 369.51,411.88 372.26,411.71 375,411.55 377.75,411.38 380.5,411.22 383.25,411.05 385.99,410.88 388.74,410.72 391.49,410.55 394.24,410.38 396.99,410.22 399.73,410.05 402.48,409.88 405.23,409.71 407.98,409.54 410.73,409.37 413.47,409.2 416.22,409.03 418.97,408.86 421.72,408.69 424.46,408.52 427.21,408.34 429.96,408.17 432.71,407.99 435.46,407.81 438.2,407.64 440.95,407.46 443.7,407.28 446.45,407.1 449.19,406.92 451.94,406.73 454.69,406.55 457.44,406.36 460.19,406.17 462.93,405.99 465.68,405.8 468.43,405.61 471.18,405.41 473.92,405.22 476.67,405.02 479.42,404.82" fill="none" stroke="#505055" stroke-width="1.05"/><path d="M314.5,356.4V470H512.6" fill="none" stroke="#262626" stroke-width="1.1"/><line x1="311.5" y1="467.19" x2="314.5" y2="467.19" stroke="#262626" stroke-width="0.9"/><text x="308.6" y="469.49" font-size="6.5" text-anchor="end" fill="#2a2a2a">0.3</text><line x1="311.5" y1="443.18" x2="314.5" y2="443.18" stroke="#262626" stroke-width="0.9"/><text x="308.6" y="445.48" font-size="6.5" text-anchor="end" fill="#2a2a2a">0.5</text><line x1="311.5" y1="410.6" x2="314.5" y2="410.6" stroke="#262626" stroke-width="0.9"/><text x="308.6" y="412.9" font-size="6.5" text-anchor="end" fill="#2a2a2a">1.0</text><line x1="311.5" y1="378.02" x2="314.5" y2="378.02" stroke="#262626" stroke-width="0.9"/><text x="308.6" y="380.32" font-size="6.5" text-anchor="end" fill="#2a2a2a">2.0</text><line x1="311.5" y1="358.97" x2="314.5" y2="358.97" stroke="#262626" stroke-width="0.9"/><text x="308.6" y="361.27" font-size="6.5" text-anchor="end" fill="#2a2a2a">3.0</text><line x1="317.3" y1="470" x2="317.3" y2="472.4" stroke="#262626" stroke-width="0.9"/><text x="317.3" y="481.7" font-size="6.5" text-anchor="middle" fill="#2a2a2a">30</text><line x1="355.9" y1="470" x2="355.9" y2="472.4" stroke="#262626" stroke-width="0.9"/><text x="355.9" y="481.7" font-size="6.5" text-anchor="middle" fill="#2a2a2a">35</text><line x1="394.5" y1="470" x2="394.5" y2="472.4" stroke="#262626" stroke-width="0.9"/><text x="394.5" y="481.7" font-size="6.5" text-anchor="middle" fill="#2a2a2a">40</text><line x1="433.1" y1="470" x2="433.1" y2="472.4" stroke="#262626" stroke-width="0.9"/><text x="433.1" y="481.7" font-size="6.5" text-anchor="middle" fill="#2a2a2a">45</text><line x1="471.7" y1="470" x2="471.7" y2="472.4" stroke="#262626" stroke-width="0.9"/><text x="471.7" y="481.7" font-size="6.5" text-anchor="middle" fill="#2a2a2a">50</text><line x1="510.3" y1="470" x2="510.3" y2="472.4" stroke="#262626" stroke-width="0.9"/><text x="510.3" y="481.7" font-size="6.5" text-anchor="middle" fill="#2a2a2a">55</text><text x="383.65" y="492.5" font-size="8.6" font-weight="bold" textLength="60.6" lengthAdjust="spacingAndGlyphs" fill="#333">Baseline hematocrit (%)</text><text x="383.3" y="351.3" class="t" font-size="8" textLength="61" lengthAdjust="spacingAndGlyphs" fill="#1e1e1e">Stroke in females</text><text x="320.5" y="368.9" class="t" font-size="6.6" textLength="48.2" lengthAdjust="spacingAndGlyphs" fill="#333"><tspan font-style="italic">P</tspan> interaction = .97</text><text x="268.2" y="351.05" font-size="11.2" font-weight="bold" fill="#111" stroke="#111" stroke-width="0.3">F</text><line x1="284.8" y1="382.5" x2="284.8" y2="408" stroke="#333" stroke-width="0.9"/><polygon points="284.8,378.6 282.85,383.5 286.75,383.5" fill="#111"/><line x1="284.8" y1="412.8" x2="284.8" y2="438.5" stroke="#333" stroke-width="0.9"/><polygon points="284.8,442.7 282.85,437.9 286.75,437.9" fill="#111"/><text transform="translate(273,393.2) rotate(-90)" x="-8.85" y="0" class="r" font-size="6.4" textLength="17.7" lengthAdjust="spacingAndGlyphs" fill="#333">Favors</text><text transform="translate(280.6,393.3) rotate(-90)" x="-10.6" y="0" class="r" font-size="6.4" textLength="21.2" lengthAdjust="spacingAndGlyphs" fill="#333">placebo</text><text transform="translate(273,427.8) rotate(-90)" x="-8.85" y="0" class="r" font-size="6.4" textLength="17.7" lengthAdjust="spacingAndGlyphs" fill="#333">Favors</text><text transform="translate(280.6,428.7) rotate(-90)" x="-16.1" y="0" class="r" font-size="6.4" textLength="32.2" lengthAdjust="spacingAndGlyphs" fill="#333">canagliflozin</text><text transform="translate(294.8,413.3) rotate(-90)" x="-15.4" y="0" font-size="8.5" font-weight="bold" textLength="30.8" lengthAdjust="spacingAndGlyphs" fill="#333">Hazard ratio</text></g>
<g><line x1="53.7" y1="578.5" x2="251.6" y2="578.5" stroke="#4a4a4a" stroke-width="0.95" stroke-dasharray="2.0,2.04" stroke-dashoffset="-0.3"/><polygon points="56.3,579.8 59.57,579.82 62.84,579.8 66.11,579.75 69.38,579.67 72.66,579.55 75.93,579.4 79.2,579.22 82.47,579.01 85.74,578.76 89.01,578.49 92.28,578.19 95.55,577.85 98.83,577.49 102.1,577.11 105.37,576.7 108.64,576.27 111.91,575.82 115.18,575.35 118.45,574.86 121.72,574.36 124.99,573.84 128.27,573.31 131.54,572.76 134.81,572.21 138.08,571.65 141.35,571.08 144.62,570.51 147.89,569.93 151.16,569.34 154.44,568.76 157.71,568.17 160.98,567.58 164.25,567 167.52,566.41 170.79,565.83 174.06,565.26 177.33,564.69 180.61,564.13 183.88,563.58 187.15,563.03 190.42,562.5 193.69,561.98 196.96,561.46 200.23,560.95 203.5,560.45 206.77,559.93 210.05,559.42 213.32,558.89 216.59,558.36 219.86,557.81 223.13,557.24 226.4,556.65 229.67,556.04 232.94,555.4 236.22,554.72 239.49,554.02 242.76,553.28 246.03,552.5 249.3,551.67 249.3,608.98 246.03,606.41 242.76,603.98 239.49,601.68 236.22,599.51 232.94,597.47 229.67,595.56 226.4,593.78 223.13,592.13 219.86,590.61 216.59,589.21 213.32,587.93 210.05,586.77 206.77,585.74 203.5,584.82 200.23,584.02 196.96,583.34 193.69,582.77 190.42,582.3 187.15,581.93 183.88,581.67 180.61,581.5 177.33,581.43 174.06,581.44 170.79,581.55 167.52,581.73 164.25,581.99 160.98,582.33 157.71,582.75 154.44,583.23 151.16,583.77 147.89,584.38 144.62,585.05 141.35,585.79 138.08,586.59 134.81,587.47 131.54,588.43 128.27,589.47 124.99,590.6 121.72,591.83 118.45,593.14 115.18,594.52 111.91,595.98 108.64,597.51 105.37,599.1 102.1,600.74 98.83,602.43 95.55,604.15 92.28,605.92 89.01,607.71 85.74,609.52 82.47,611.35 79.2,613.19 75.93,615.04 72.66,616.88 69.38,618.72 66.11,620.54 62.84,622.34 59.57,624.12 56.3,625.87" fill="#c8c6cb"/><polyline points="56.3,602.76 59.57,601.68 62.84,600.6 66.11,599.52 69.38,598.45 72.66,597.37 75.93,596.3 79.2,595.23 82.47,594.18 85.74,593.12 89.01,592.08 92.28,591.05 95.55,590.04 98.83,589.03 102.1,588.04 105.37,587.07 108.64,586.11 111.91,585.17 115.18,584.25 118.45,583.35 121.72,582.48 124.99,581.63 128.27,580.8 131.54,580 134.81,579.23 138.08,578.48 141.35,577.77 144.62,577.09 147.89,576.44 151.16,575.82 154.44,575.24 157.71,574.7 160.98,574.19 164.25,573.72 167.52,573.3 170.79,572.91 174.06,572.57 177.33,572.27 180.61,572.02 183.88,571.82 187.15,571.66 190.42,571.55 193.69,571.5 196.96,571.49 200.23,571.54 203.5,571.65 206.77,571.8 210.05,572.02 213.32,572.3 216.59,572.63 219.86,573.03 223.13,573.49 226.4,574.01 229.67,574.6 232.94,575.25 236.22,575.98 239.49,576.77 242.76,577.63 246.03,578.56 249.3,579.56" fill="none" stroke="#505055" stroke-width="1.05"/><path d="M53.5,524.6V638.2H251.6" fill="none" stroke="#262626" stroke-width="1.1"/><line x1="50.5" y1="634.61" x2="53.5" y2="634.61" stroke="#262626" stroke-width="0.9"/><text x="47.6" y="636.91" font-size="6.5" text-anchor="end" fill="#2a2a2a">0.3</text><line x1="50.5" y1="610.8" x2="53.5" y2="610.8" stroke="#262626" stroke-width="0.9"/><text x="47.6" y="613.1" font-size="6.5" text-anchor="end" fill="#2a2a2a">0.5</text><line x1="50.5" y1="578.5" x2="53.5" y2="578.5" stroke="#262626" stroke-width="0.9"/><text x="47.6" y="580.8" font-size="6.5" text-anchor="end" fill="#2a2a2a">1.0</text><line x1="50.5" y1="546.2" x2="53.5" y2="546.2" stroke="#262626" stroke-width="0.9"/><text x="47.6" y="548.5" font-size="6.5" text-anchor="end" fill="#2a2a2a">2.0</text><line x1="50.5" y1="527.3" x2="53.5" y2="527.3" stroke="#262626" stroke-width="0.9"/><text x="47.6" y="529.6" font-size="6.5" text-anchor="end" fill="#2a2a2a">3.0</text><line x1="56.3" y1="638.2" x2="56.3" y2="640.6" stroke="#262626" stroke-width="0.9"/><text x="56.3" y="649.9" font-size="6.5" text-anchor="middle" fill="#2a2a2a">30</text><line x1="94.9" y1="638.2" x2="94.9" y2="640.6" stroke="#262626" stroke-width="0.9"/><text x="94.9" y="649.9" font-size="6.5" text-anchor="middle" fill="#2a2a2a">35</text><line x1="133.5" y1="638.2" x2="133.5" y2="640.6" stroke="#262626" stroke-width="0.9"/><text x="133.5" y="649.9" font-size="6.5" text-anchor="middle" fill="#2a2a2a">40</text><line x1="172.1" y1="638.2" x2="172.1" y2="640.6" stroke="#262626" stroke-width="0.9"/><text x="172.1" y="649.9" font-size="6.5" text-anchor="middle" fill="#2a2a2a">45</text><line x1="210.7" y1="638.2" x2="210.7" y2="640.6" stroke="#262626" stroke-width="0.9"/><text x="210.7" y="649.9" font-size="6.5" text-anchor="middle" fill="#2a2a2a">50</text><line x1="249.3" y1="638.2" x2="249.3" y2="640.6" stroke="#262626" stroke-width="0.9"/><text x="249.3" y="649.9" font-size="6.5" text-anchor="middle" fill="#2a2a2a">55</text><text x="122.65" y="660.7" font-size="8.6" font-weight="bold" textLength="60.6" lengthAdjust="spacingAndGlyphs" fill="#333">Baseline hematocrit (%)</text><text x="97.73" y="519.5" class="t" font-size="8" textLength="110.14" lengthAdjust="spacingAndGlyphs" fill="#1e1e1e">Any thromboembolism in males</text><text x="59.5" y="537.9" class="t" font-size="6.6" textLength="48.2" lengthAdjust="spacingAndGlyphs" fill="#333"><tspan font-style="italic">P</tspan> interaction = .08</text><text x="6.5" y="519.25" font-size="11.2" font-weight="bold" fill="#111" stroke="#111" stroke-width="0.3">G</text><line x1="23.8" y1="550.7" x2="23.8" y2="576.2" stroke="#333" stroke-width="0.9"/><polygon points="23.8,546.8 21.85,551.7 25.75,551.7" fill="#111"/><line x1="23.8" y1="581" x2="23.8" y2="606.7" stroke="#333" stroke-width="0.9"/><polygon points="23.8,610.9 21.85,606.1 25.75,606.1" fill="#111"/><text transform="translate(12,561.4) rotate(-90)" x="-8.85" y="0" class="r" font-size="6.4" textLength="17.7" lengthAdjust="spacingAndGlyphs" fill="#333">Favors</text><text transform="translate(19.6,561.5) rotate(-90)" x="-10.6" y="0" class="r" font-size="6.4" textLength="21.2" lengthAdjust="spacingAndGlyphs" fill="#333">placebo</text><text transform="translate(12,596) rotate(-90)" x="-8.85" y="0" class="r" font-size="6.4" textLength="17.7" lengthAdjust="spacingAndGlyphs" fill="#333">Favors</text><text transform="translate(19.6,596.9) rotate(-90)" x="-16.1" y="0" class="r" font-size="6.4" textLength="32.2" lengthAdjust="spacingAndGlyphs" fill="#333">canagliflozin</text><text transform="translate(33.8,581.5) rotate(-90)" x="-15.4" y="0" font-size="8.5" font-weight="bold" textLength="30.8" lengthAdjust="spacingAndGlyphs" fill="#333">Hazard ratio</text></g>
<g><line x1="314.7" y1="579.1" x2="512.6" y2="579.1" stroke="#4a4a4a" stroke-width="0.95" stroke-dasharray="2.0,2.04" stroke-dashoffset="-1.1"/><polygon points="317.3,547.71 320.05,548.94 322.8,550.15 325.54,551.33 328.29,552.5 331.04,553.64 333.79,554.74 336.53,555.82 339.28,556.86 342.03,557.86 344.78,558.82 347.53,559.73 350.27,560.6 353.02,561.42 355.77,562.18 358.52,562.89 361.26,563.54 364.01,564.13 366.76,564.66 369.51,565.13 372.26,565.55 375,565.93 377.75,566.26 380.5,566.55 383.25,566.81 385.99,567.03 388.74,567.22 391.49,567.39 394.24,567.53 396.99,567.66 399.73,567.76 402.48,567.86 405.23,567.94 407.98,567.99 410.73,568.03 413.47,568.05 416.22,568.04 418.97,568.01 421.72,567.95 424.46,567.86 427.21,567.74 429.96,567.59 432.71,567.4 435.46,567.18 438.2,566.91 440.95,566.61 443.7,566.27 446.45,565.89 449.19,565.46 451.94,564.98 454.69,564.46 457.44,563.88 460.19,563.26 462.93,562.58 465.68,561.84 468.43,561.05 471.18,560.2 473.92,559.29 476.67,558.31 479.42,557.27 479.42,631.73 476.67,629 473.92,626.39 471.18,623.92 468.43,621.56 465.68,619.33 462.93,617.21 460.19,615.2 457.44,613.3 454.69,611.5 451.94,609.81 449.19,608.21 446.45,606.7 443.7,605.29 440.95,603.95 438.2,602.7 435.46,601.52 432.71,600.42 429.96,599.39 427.21,598.42 424.46,597.51 421.72,596.66 418.97,595.87 416.22,595.12 413.47,594.42 410.73,593.77 407.98,593.15 405.23,592.56 402.48,592.01 399.73,591.48 396.99,590.97 394.24,590.49 391.49,590.03 388.74,589.61 385.99,589.22 383.25,588.88 380.5,588.58 377.75,588.34 375,588.15 372.26,588.02 369.51,587.95 366.76,587.96 364.01,588.05 361.26,588.21 358.52,588.46 355.77,588.79 353.02,589.2 350.27,589.68 347.53,590.23 344.78,590.84 342.03,591.51 339.28,592.24 336.53,593.02 333.79,593.85 331.04,594.72 328.29,595.62 325.54,596.56 322.8,597.53 320.05,598.53 317.3,599.54" fill="#c8c6cb"/><polyline points="317.3,574.02 320.05,574.08 322.8,574.16 325.54,574.23 328.29,574.32 331.04,574.41 333.79,574.5 336.53,574.6 339.28,574.71 342.03,574.82 344.78,574.94 347.53,575.07 350.27,575.2 353.02,575.34 355.77,575.49 358.52,575.65 361.26,575.81 364.01,575.99 366.76,576.17 369.51,576.36 372.26,576.56 375,576.77 377.75,576.99 380.5,577.22 383.25,577.46 385.99,577.71 388.74,577.96 391.49,578.23 394.24,578.52 396.99,578.81 399.73,579.11 402.48,579.43 405.23,579.75 407.98,580.09 410.73,580.45 413.47,580.81 416.22,581.19 418.97,581.58 421.72,581.98 424.46,582.4 427.21,582.83 429.96,583.27 432.71,583.73 435.46,584.2 438.2,584.69 440.95,585.19 443.7,585.71 446.45,586.24 449.19,586.79 451.94,587.36 454.69,587.94 457.44,588.54 460.19,589.15 462.93,589.78 465.68,590.43 468.43,591.09 471.18,591.77 473.92,592.47 476.67,593.19 479.42,593.92" fill="none" stroke="#505055" stroke-width="1.05"/><path d="M314.5,524.6V638.2H512.6" fill="none" stroke="#262626" stroke-width="1.1"/><line x1="311.5" y1="635.33" x2="314.5" y2="635.33" stroke="#262626" stroke-width="0.9"/><text x="308.6" y="637.63" font-size="6.5" text-anchor="end" fill="#2a2a2a">0.3</text><line x1="311.5" y1="611.47" x2="314.5" y2="611.47" stroke="#262626" stroke-width="0.9"/><text x="308.6" y="613.77" font-size="6.5" text-anchor="end" fill="#2a2a2a">0.5</text><line x1="311.5" y1="579.1" x2="314.5" y2="579.1" stroke="#262626" stroke-width="0.9"/><text x="308.6" y="581.4" font-size="6.5" text-anchor="end" fill="#2a2a2a">1.0</text><line x1="311.5" y1="546.73" x2="314.5" y2="546.73" stroke="#262626" stroke-width="0.9"/><text x="308.6" y="549.03" font-size="6.5" text-anchor="end" fill="#2a2a2a">2.0</text><line x1="311.5" y1="527.79" x2="314.5" y2="527.79" stroke="#262626" stroke-width="0.9"/><text x="308.6" y="530.09" font-size="6.5" text-anchor="end" fill="#2a2a2a">3.0</text><line x1="317.3" y1="638.2" x2="317.3" y2="640.6" stroke="#262626" stroke-width="0.9"/><text x="317.3" y="649.9" font-size="6.5" text-anchor="middle" fill="#2a2a2a">30</text><line x1="355.9" y1="638.2" x2="355.9" y2="640.6" stroke="#262626" stroke-width="0.9"/><text x="355.9" y="649.9" font-size="6.5" text-anchor="middle" fill="#2a2a2a">35</text><line x1="394.5" y1="638.2" x2="394.5" y2="640.6" stroke="#262626" stroke-width="0.9"/><text x="394.5" y="649.9" font-size="6.5" text-anchor="middle" fill="#2a2a2a">40</text><line x1="433.1" y1="638.2" x2="433.1" y2="640.6" stroke="#262626" stroke-width="0.9"/><text x="433.1" y="649.9" font-size="6.5" text-anchor="middle" fill="#2a2a2a">45</text><line x1="471.7" y1="638.2" x2="471.7" y2="640.6" stroke="#262626" stroke-width="0.9"/><text x="471.7" y="649.9" font-size="6.5" text-anchor="middle" fill="#2a2a2a">50</text><line x1="510.3" y1="638.2" x2="510.3" y2="640.6" stroke="#262626" stroke-width="0.9"/><text x="510.3" y="649.9" font-size="6.5" text-anchor="middle" fill="#2a2a2a">55</text><text x="383.65" y="660.7" font-size="8.6" font-weight="bold" textLength="60.6" lengthAdjust="spacingAndGlyphs" fill="#333">Baseline hematocrit (%)</text><text x="355.44" y="519.5" class="t" font-size="8" textLength="116.73" lengthAdjust="spacingAndGlyphs" fill="#1e1e1e">Any thromboembolism in females</text><text x="320.5" y="537.9" class="t" font-size="6.6" textLength="48.2" lengthAdjust="spacingAndGlyphs" fill="#333"><tspan font-style="italic">P</tspan> interaction = .67</text><text x="267.5" y="519.25" font-size="11.2" font-weight="bold" fill="#111" stroke="#111" stroke-width="0.3">H</text><line x1="284.8" y1="550.7" x2="284.8" y2="576.2" stroke="#333" stroke-width="0.9"/><polygon points="284.8,546.8 282.85,551.7 286.75,551.7" fill="#111"/><line x1="284.8" y1="581" x2="284.8" y2="606.7" stroke="#333" stroke-width="0.9"/><polygon points="284.8,610.9 282.85,606.1 286.75,606.1" fill="#111"/><text transform="translate(273,561.4) rotate(-90)" x="-8.85" y="0" class="r" font-size="6.4" textLength="17.7" lengthAdjust="spacingAndGlyphs" fill="#333">Favors</text><text transform="translate(280.6,561.5) rotate(-90)" x="-10.6" y="0" class="r" font-size="6.4" textLength="21.2" lengthAdjust="spacingAndGlyphs" fill="#333">placebo</text><text transform="translate(273,596) rotate(-90)" x="-8.85" y="0" class="r" font-size="6.4" textLength="17.7" lengthAdjust="spacingAndGlyphs" fill="#333">Favors</text><text transform="translate(280.6,596.9) rotate(-90)" x="-16.1" y="0" class="r" font-size="6.4" textLength="32.2" lengthAdjust="spacingAndGlyphs" fill="#333">canagliflozin</text><text transform="translate(294.8,581.5) rotate(-90)" x="-15.4" y="0" font-size="8.5" font-weight="bold" textLength="30.8" lengthAdjust="spacingAndGlyphs" fill="#333">Hazard ratio</text></g>
<rect x="0.5" y="0.5" width="519" height="668" fill="none" stroke="#606060" stroke-width="1"/>
</svg></body></html>
